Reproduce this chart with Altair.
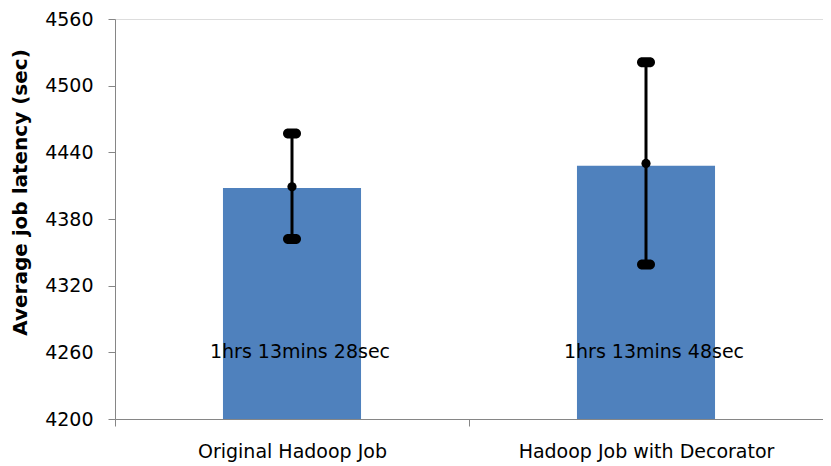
import altair as alt
import pandas as pd

jobs = ["Original Hadoop Job", "Hadoop Job with Decorator"]
latency = [4408, 4428]
err_center = [4409, 4430]
err_low = [4362, 4339]
err_high = [4457, 4521]
labels = ["1hrs 13mins 28sec", "1hrs 13mins 48sec"]
label_y = [4260, 4260]
y_ticks = [4200, 4260, 4320, 4380, 4440, 4500, 4560]

df = pd.DataFrame({
    "job": jobs, "latency": latency, "center": err_center,
    "low": err_low, "high": err_high, "label": labels, "ly": label_y,
})

FONT = "DejaVu Sans"
xenc = alt.X("job:N", sort=jobs, title=None,
             scale=alt.Scale(paddingInner=0, paddingOuter=0),
             axis=alt.Axis(tickBand="extent", labelAngle=0, labelFontSize=19,
                           labelFont=FONT, labelColor="black", labelPadding=16,
                           labelLimit=0,
                           domainColor="#868686", tickColor="#868686", tickSize=7))
yscale = alt.Scale(domain=[4200, 4560], zero=False, nice=False)

base = alt.Chart(df)

bars = base.mark_bar(color="#4F81BD", width=alt.RelativeBandSize(0.39), clip=True).encode(
    x=xenc,
    y=alt.Y("latency:Q", scale=yscale, title="Average job latency (sec)",
            axis=alt.Axis(values=y_ticks, format="d", grid=False,
                          labelFontSize=19, labelFont=FONT, labelColor="black",
                          labelPadding=15, tickSize=7, domainColor="#868686",
                          tickColor="#868686", titleFont=FONT, titleFontSize=20,
                          titleFontWeight="bold", titleColor="black",
                          titleX=-95, titleY=173, titleBaseline="middle",
                          titleAlign="center", titleAngle=270)),
)

rule = base.mark_rule(color="black", strokeWidth=3).encode(
    x=alt.X("job:N", sort=jobs), y=alt.Y("low:Q", scale=yscale), y2="high:Q")
cap_hi = base.mark_tick(color="black", size=18, thickness=10, cornerRadius=5, opacity=1).encode(
    x=alt.X("job:N", sort=jobs), y=alt.Y("high:Q", scale=yscale))
cap_lo = base.mark_tick(color="black", size=18, thickness=10, cornerRadius=5, opacity=1).encode(
    x=alt.X("job:N", sort=jobs), y=alt.Y("low:Q", scale=yscale))
dot = base.mark_circle(color="black", size=85, opacity=1).encode(
    x=alt.X("job:N", sort=jobs), y=alt.Y("center:Q", scale=yscale))
text = base.mark_text(fontSize=19, font=FONT, color="black", baseline="middle", dx=8).encode(
    x=alt.X("job:N", sort=jobs), y=alt.Y("ly:Q", scale=yscale), text="label:N")

chart = alt.layer(bars, rule, cap_hi, cap_lo, dot, text).properties(
    width=708, height=400,
    autosize=alt.AutoSizeParams(type="none"),
    padding={"left": 107, "top": 11, "right": 0, "bottom": 46},
).configure_view(stroke=None).configure(background="white")

chart.save("out.html", embed_options={"renderer": "svg", "actions": False})
